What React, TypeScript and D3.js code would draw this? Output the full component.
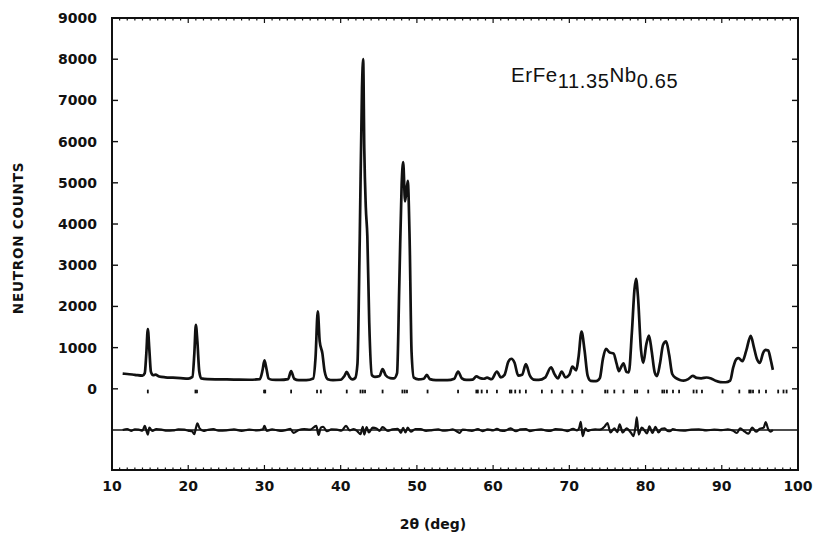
import React from "react";
import * as d3 from "d3";

const W = 815;
const H = 534;

// observed / calculated profile: [2theta (deg), neutron counts]
const profile: [number, number][] = [
  [11.4, 370], [12.0, 360], [13.0, 340], [14.0, 320], [14.3, 380], [14.5, 850], [14.7, 1450], [14.9, 950],
  [15.1, 420], [15.4, 330], [15.7, 345], [16.2, 300], [17.0, 280], [18.0, 270], [19.0, 260], [20.0, 250],
  [20.55, 290], [20.8, 850], [21.0, 1550], [21.2, 1150], [21.45, 420], [21.7, 255], [22.5, 235], [24.0, 230],
  [26.0, 225], [28.0, 220], [29.4, 235], [29.75, 450], [30.0, 690], [30.25, 500], [30.55, 250], [31.0, 220],
  [32.0, 215], [33.1, 235], [33.5, 430], [33.9, 245], [34.5, 210], [35.5, 210], [36.4, 250], [36.7, 750],
  [37.0, 1880], [37.25, 1150], [37.6, 860], [37.9, 420], [38.3, 235], [39.0, 210], [40.0, 220], [40.45, 300],
  [40.8, 410], [41.15, 290], [41.5, 230], [41.9, 260], [42.2, 600], [42.5, 3600], [42.8, 7300], [42.95, 8000],
  [43.1, 5800], [43.3, 4400], [43.5, 3700], [43.75, 1600], [44.1, 330], [44.5, 290], [45.1, 310], [45.5, 480],
  [45.9, 330], [46.5, 260], [47.0, 255], [47.4, 380], [47.7, 2600], [48.0, 4950], [48.2, 5500], [48.45, 4550],
  [48.8, 5050], [49.05, 3600], [49.3, 900], [49.6, 270], [50.2, 230], [50.9, 245], [51.3, 340], [51.7, 235],
  [52.5, 210], [54.0, 210], [54.9, 245], [55.4, 420], [55.9, 255], [56.5, 215], [57.3, 225], [57.8, 300],
  [58.3, 260], [58.8, 245], [59.2, 270], [59.8, 235], [60.5, 420], [61.0, 280], [61.5, 340], [62.0, 660],
  [62.4, 730], [62.8, 640], [63.3, 320], [63.8, 340], [64.3, 600], [64.8, 330], [65.3, 225], [66.0, 215],
  [66.8, 270], [67.6, 520], [68.1, 340], [68.5, 255], [69.0, 420], [69.5, 275], [70.0, 340], [70.4, 540],
  [70.9, 450], [71.2, 760], [71.6, 1390], [72.0, 930], [72.4, 320], [72.8, 195], [73.5, 185], [74.0, 260],
  [74.4, 720], [74.8, 970], [75.3, 880], [75.8, 860], [76.2, 610], [76.5, 430], [76.8, 530], [77.1, 620],
  [77.5, 410], [77.8, 400], [78.2, 1350], [78.55, 2420], [78.75, 2670], [79.0, 2250], [79.4, 950], [79.7, 630],
  [80.1, 1080], [80.45, 1290], [80.8, 920], [81.2, 400], [81.5, 310], [81.9, 620], [82.3, 1070], [82.7, 1150],
  [83.1, 820], [83.5, 360], [84.0, 260], [84.5, 215], [85.0, 200], [85.6, 235], [86.2, 315], [86.7, 265],
  [87.3, 255], [88.0, 275], [88.6, 250], [89.2, 195], [89.8, 165], [90.5, 160], [91.1, 200], [91.5, 520],
  [91.9, 720], [92.2, 745], [92.7, 670], [93.2, 920], [93.8, 1285], [94.2, 1020], [94.6, 730], [95.0, 630],
  [95.4, 860], [95.7, 945], [96.1, 930], [96.4, 720], [96.7, 460],
];

// difference curve (obs - calc), drawn about the residual baseline
const residual: [number, number][] = [
  [11.4, 0], [12.0, 25], [12.5, -20], [13.0, 15], [13.5, 10], [14.0, -15], [14.3, 100], [14.55, -40], [14.7, -110],
  [14.9, 60], [15.3, -20], [15.8, 20], [16.5, 10], [17.2, -15], [18.0, -10], [18.7, 15], [19.5, 10], [20.0, -15],
  [20.5, -30], [20.8, -100], [21.0, 40], [21.2, 160], [21.5, 40], [22.0, -20], [22.5, 0], [23.3, 20], [24.0, -15],
  [25.0, -10], [26.0, 15], [27.0, -20], [28.0, 10], [29.0, -10], [29.8, 20], [30.0, 100], [30.3, -20], [31.0, 15],
  [31.5, 0], [32.3, -20], [33.0, 10], [33.4, 30], [33.8, -70], [34.5, 0], [35.2, 20], [36.0, 10], [36.8, 100],
  [37.1, -120], [37.4, 60], [37.7, 80], [38.2, -30], [38.8, 15], [39.5, 10], [40.1, -15], [40.7, 100], [41.2, -10],
  [41.7, 20], [42.2, -30], [42.6, -100], [42.9, 80], [43.1, -110], [43.4, 70], [43.7, -60], [44.2, 60], [44.7, 40],
  [45.1, -20], [45.5, 70], [46.2, -20], [46.8, 15], [47.5, 30], [47.9, -70], [48.2, 50], [48.5, -60], [48.8, 60],
  [49.2, -40], [49.8, 25], [50.5, 20], [51.2, -20], [52.0, 0], [52.8, 15], [53.4, -15], [54.0, -10], [54.7, 15],
  [55.3, -40], [55.6, -70], [56.0, 10], [56.5, 0], [57.2, -20], [58.0, 20], [58.6, -25], [59.3, 15], [60.0, -10],
  [60.5, 30], [61.0, -15], [61.5, -20], [62.3, 40], [63.0, -30], [63.6, 15], [64.3, 20], [64.8, -25], [65.5, 0],
  [66.3, 15], [67.0, -15], [67.5, -20], [68.2, 20], [69.0, 10], [69.7, -25], [70.5, 30], [71.0, -10], [71.3, 60],
  [71.5, 200], [71.75, -150], [72.1, 40], [72.4, -20], [72.8, 0], [73.4, 15], [74.0, 10], [74.6, 80], [75.0, 170],
  [75.4, -60], [75.9, 40], [76.3, -50], [76.6, 140], [77.0, -60], [77.5, 40], [78.1, -70], [78.4, -150], [78.7, 100],
  [78.85, 310], [79.1, -110], [79.5, 60], [80.2, -80], [80.5, 90], [80.9, -70], [81.3, 80], [81.7, -60], [82.1, 30],
  [82.5, 40], [82.9, -20], [83.2, -30], [83.6, 20], [84.0, 0], [85.0, -15], [86.0, 10], [87.0, 15], [88.0, -10],
  [89.0, 10], [90.0, 0], [90.8, 15], [91.5, -20], [92.0, -70], [92.4, 40], [93.0, -40], [93.5, -90], [94.0, 60],
  [94.5, -40], [95.0, 30], [95.5, 60], [95.75, 190], [96.1, 20], [96.4, -40], [96.7, 0],
];

// Bragg reflection positions (deg)
const braggPositions: number[] = [
  14.7, 20.95, 21.15, 29.95, 30.1, 33.5, 36.9, 37.4, 40.8, 42.6, 42.9, 43.2, 45.5, 48.1, 48.4, 48.7,
  51.4, 55.4, 57.8, 58.0, 58.5, 59.2, 60.5, 62.2, 62.4, 62.9, 63.5, 64.3, 66.4, 67.7, 69.1, 70.4, 71.7,
  74.7, 75.0, 75.9, 77.1, 78.6, 78.9, 80.35, 82.2, 82.45, 82.8, 83.6, 84.4, 86.3, 86.7, 87.4, 90.1,
  92.3, 93.6, 93.8, 94.1, 94.9, 95.8, 97.4, 98.1, 98.5,
];

const xTickLabels: number[] = [10, 20, 30, 40, 50, 60, 70, 80, 90, 100];
const yTickLabels: number[] = [0, 1000, 2000, 3000, 4000, 5000, 6000, 7000, 8000, 9000];
const residualOffset = -1000;

const left = 112;
const right = 798;
const top = 18;
const bottom = 470;

export default function App() {
  const x = d3.scaleLinear().domain([10, 100]).range([left, right]);
  const y = d3.scaleLinear().domain([-1970, 9000]).range([bottom, top]);

  const line = d3
    .line<[number, number]>()
    .x((d) => x(d[0]))
    .y((d) => y(d[1]))
    .curve(d3.curveMonotoneX);

  const resLine = d3
    .line<[number, number]>()
    .x((d) => x(d[0]))
    .y((d) => y(d[1] + residualOffset))
    .curve(d3.curveMonotoneX);

  const minorX = d3.range(10, 101, 1);
  const ink = "#111";
  const labelFont = "'DejaVu Sans', sans-serif";

  return (
    <svg
      width={W}
      height={H}
      style={{ position: "absolute", left: 0, top: 0, background: "#fff" }}
    >
      <rect x={0} y={0} width={W} height={H} fill="#fff" />
      {/* frame */}
      <rect
        x={left}
        y={top}
        width={right - left}
        height={bottom - top}
        fill="none"
        stroke={ink}
        strokeWidth={2}
      />
      {/* x ticks, bottom and top, inward */}
      {minorX.map((v) => {
        const major = v % 10 === 0;
        const len = major ? 5 : 2.5;
        return (
          <g key={"xt" + v}>
            <line x1={x(v)} x2={x(v)} y1={bottom} y2={bottom - len} stroke={ink} strokeWidth={1.2} />
            <line x1={x(v)} x2={x(v)} y1={top} y2={top + len} stroke={ink} strokeWidth={1.2} />
          </g>
        );
      })}
      {/* y ticks, left and right, inward */}
      {yTickLabels.map((v) => (
        <g key={"yt" + v}>
          <line x1={left} x2={left + 6} y1={y(v)} y2={y(v)} stroke={ink} strokeWidth={1.4} />
          <line x1={right} x2={right - 6} y1={y(v)} y2={y(v)} stroke={ink} strokeWidth={1.4} />
        </g>
      ))}
      {/* tick labels */}
      {xTickLabels.map((v) => (
        <text
          key={"xl" + v}
          x={x(v)}
          y={bottom + 21}
          textAnchor="middle"
          fontFamily={labelFont}
          fontWeight="bold"
          fontSize={14}
          fill={ink}
        >
          {v}
        </text>
      ))}
      {yTickLabels.map((v) => (
        <text
          key={"yl" + v}
          x={left - 15}
          y={y(v) + 5}
          textAnchor="end"
          fontFamily={labelFont}
          fontWeight="bold"
          fontSize={14}
          fill={ink}
        >
          {v}
        </text>
      ))}
      {/* axis titles */}
      <text
        x={433}
        y={529}
        textAnchor="middle"
        fontFamily={labelFont}
        fontWeight="bold"
        fontSize={14}
        fill={ink}
      >
        2θ (deg)
      </text>
      <text
        transform={`translate(23, ${238}) rotate(-90)`}
        textAnchor="middle"
        fontFamily={labelFont}
        fontWeight="bold"
        fontSize={13.5}
        letterSpacing={0.8}
        fill={ink}
      >
        NEUTRON  COUNTS
      </text>
      {/* residual baseline */}
      <line
        x1={left}
        x2={right}
        y1={y(residualOffset)}
        y2={y(residualOffset)}
        stroke={ink}
        strokeWidth={1.6}
      />
      {/* residual curve */}
      <path d={resLine(residual) || ""} fill="none" stroke={ink} strokeWidth={2.2} />
      {/* Bragg ticks */}
      {braggPositions.map((p, i) => (
        <line
          key={"b" + i}
          x1={x(p)}
          x2={x(p)}
          y1={y(-20)}
          y2={y(-110)}
          stroke={ink}
          strokeWidth={1.8}
        />
      ))}
      {/* profile */}
      <path
        d={line(profile) || ""}
        fill="none"
        stroke={ink}
        strokeWidth={2.7}
        strokeLinejoin="round"
      />
      {/* compound label */}
      <text
        x={511}
        y={82}
        fontFamily="'Liberation Sans', Arial, sans-serif"
        fontSize={20.5}
        letterSpacing={0.6}
        fill={ink}
      >
        ErFe
        <tspan dy={6} fontSize={20}>11.35</tspan>
        <tspan dy={-6} fontSize={20.5}>Nb</tspan>
        <tspan dy={6} fontSize={20}>0.65</tspan>
      </text>
    </svg>
  );
}
